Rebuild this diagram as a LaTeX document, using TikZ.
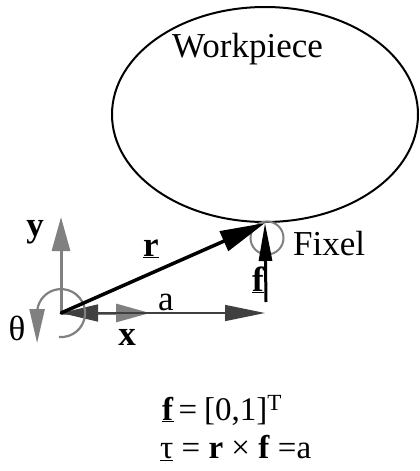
\documentclass[tikz,border=0pt]{standalone}
\usepackage{fontspec}
\setmainfont{Liberation Serif}
\usetikzlibrary{arrows.meta,shapes.geometric,calc}
\definecolor{axgray}{RGB}{128,128,128}
\definecolor{dimgray}{RGB}{64,64,64}
\begin{document}
\begin{tikzpicture}[x=1pt,y=-1pt,
  font=\fontsize{35}{42}\selectfont,
  lbl/.style={inner sep=0pt, anchor=base},
  eqn/.style={inner sep=0pt, anchor=base west, font=\fontsize{33}{40}\selectfont},
  axisarrow/.style={draw=axgray, line width=3pt, -{Triangle[length=34pt,width=18pt]}},
  dimarrow/.style={draw=dimgray, line width=1.5pt, {Triangle[length=37pt,width=17pt]}-{Triangle[length=40pt,width=16pt]}},
  rvec/.style={draw=black, line width=3.5pt, -{Triangle[length=45pt,width=21pt]}},
  fvec/.style={draw=black, line width=3pt, -{Triangle[length=38pt,width=13pt]}},
  thetaarrow/.style={draw=axgray, line width=2.2pt, -{Triangle[length=34pt,width=15pt]}}]
\useasboundingbox (0,0) rectangle (420,471);
% workpiece
\node[draw, ellipse, line width=2pt, minimum width=306pt, minimum height=215pt, inner sep=0pt] (wp) at (265,114.5) {};
\node[lbl, anchor=base west] (wplab) at (172,57) {Workpiece};
% coordinates
\coordinate (O) at (61,313);
\coordinate (yend) at (61,217);
\coordinate (xend) at (150,313);
\coordinate (aend) at (265,313);
\coordinate (fbase) at (266,302);
% fixel
\node[circle, draw=axgray, line width=2pt, minimum size=33pt, inner sep=0pt] (fix) at (267,238) {};
\node[lbl, anchor=base west] (fixlab) at (293,255) {Fixel};
% axes
\draw[axisarrow] (O) -- (yend);
\draw[axisarrow] (O) -- (xend);
\draw[dimarrow] (O) -- (aend);
% theta
\draw[thetaarrow] ($(O)+(-2,24)$) arc[start angle=95, end angle=-180, radius=24] -- ++(0,30);
% vectors
\draw[rvec] (O) -- (wp.south);
\draw[fvec] (fbase) -- (wp.south);
\fill (O) circle (1.5pt);
% labels
\node[lbl] (ylab) at (35,236) {\textbf{y}};
\node[lbl] (xlab) at (127,345) {\textbf{x}};
\node[lbl] (thlab) at (17,340) {θ};
\node[lbl] (alab) at (166,310) {a};
\node[lbl] (rlab) at (151,256) {\underline{\textbf{r}}};
\node[lbl] (flab) at (258,291) {\underline{\textbf{f}}};
\node[eqn] (eq1) at (162,420) {\underline{\textbf{f}}\hspace{5pt}=\hspace{7pt}[0,1]\textsuperscript{T}};
\node[eqn] (eq2) at (160,458) {\underline{τ} = \textbf{r} × \textbf{f} =a};
\end{tikzpicture}
\end{document}
